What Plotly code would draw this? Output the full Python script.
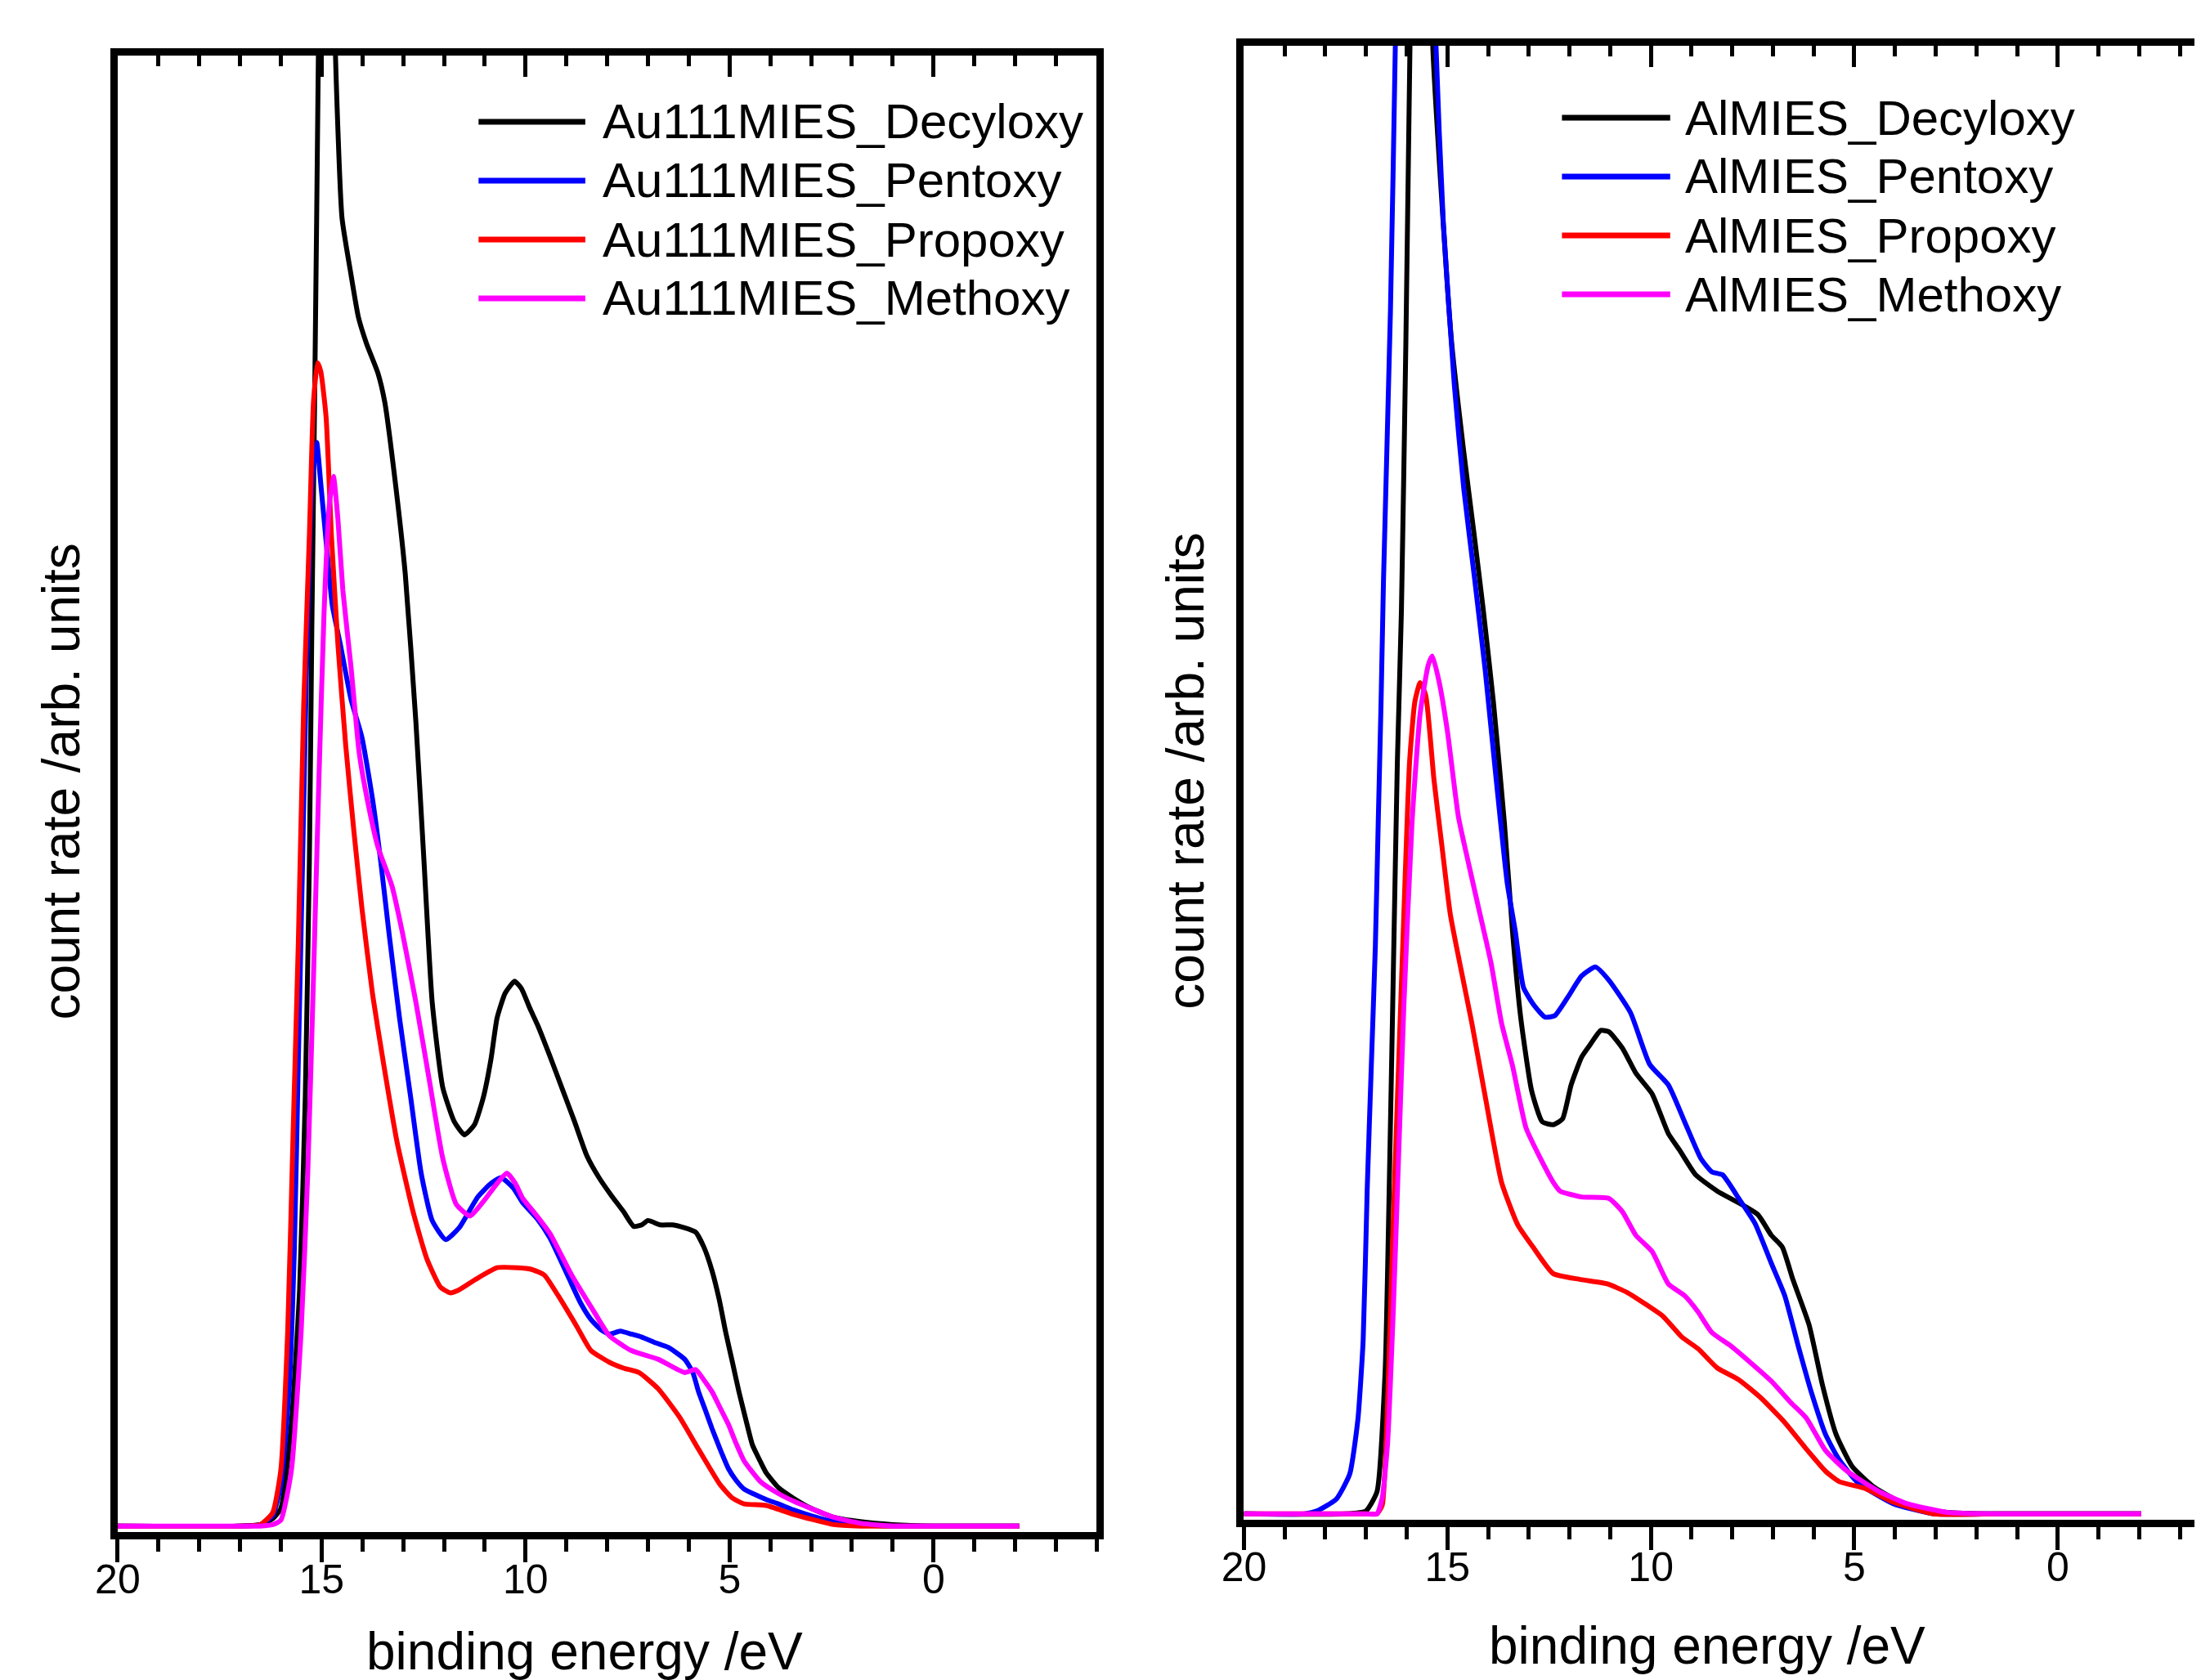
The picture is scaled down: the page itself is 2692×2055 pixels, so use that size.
"""Two MIES panels: Au(111) and Al substrates with alkoxy layers."""

import plotly.graph_objects as go

FONT = "Arial, Liberation Sans, sans-serif"

# ---- Au(111) panel: binding energy (eV) / count rate (arb., % of panel height)
AU_DECYLOXY_E = [20, 17, 16.5, 16.2, 16.0, 15.74, 15.54, 15.4, 15.3, 15.24,
                 15.17, 15.08, 15.0, 14.85, 14.66, 14.5, 14.3, 14.1, 13.9, 13.62,
                 13.45, 13.22, 12.95, 12.69, 12.49, 12.29, 12.03, 11.75, 11.5, 11.25,
                 11.03, 10.85, 10.7, 10.5, 10.27, 10.1, 9.9, 9.7, 9.4, 9.1,
                 8.8, 8.5, 8.2, 7.9, 7.6, 7.35, 7.15, 7.0, 6.7, 6.4,
                 6.1, 5.83, 5.63, 5.43, 5.25, 5.1, 4.93, 4.77, 4.6, 4.44,
                 4.25, 4.1, 3.8, 3.44, 3.0, 2.45, 1.8, 1.0, 0, -2.1]
AU_DECYLOXY_Y = [0.4, 0.4, 0.5, 0.9, 1.6, 7.4, 16.4, 29.5, 45.4, 61.2,
                 77, 100, 135, 135, 100, 89, 85.5, 82.3, 80.5, 78.5,
                 76.5, 71.7, 64.9, 54.9, 45.4, 35.9, 30.1, 27.8, 26.9, 27.6,
                 29.5, 32, 34.8, 36.5, 37.3, 36.8, 35.5, 34.3, 32.2, 30,
                 27.8, 25.5, 24, 22.8, 21.7, 20.7, 20.8, 21.1, 20.8, 20.8,
                 20.6, 20.3, 19.3, 17.7, 15.7, 13.6, 11.5, 9.5, 7.6, 5.9,
                 4.8, 4.0, 3.0, 2.3, 1.6, 1.0, 0.7, 0.5, 0.4, 0.4]

AU_PENTOXY_E = [20, 17, 16.5, 16.2, 16.0, 15.8, 15.67, 15.57, 15.47, 15.37,
                15.27, 15.2, 15.12, 15.02, 14.87, 14.74, 14.54, 14.28, 14.01, 13.75,
                13.55, 13.35, 13.09, 12.82, 12.56, 12.29, 11.96, 11.63, 11.17, 10.85,
                10.6, 10.3, 10.07, 9.71, 9.4, 8.94, 8.65, 8.4, 8.15, 7.95,
                7.68, 7.4, 7.15, 6.8, 6.5, 6.1, 5.9, 5.76, 5.6, 5.43,
                5.23, 5.03, 4.84, 4.64, 4.35, 4.1, 3.8, 3.44, 3.0, 2.45,
                1.8, 1.0, 0, -2.1]
AU_PENTOXY_Y = [0.4, 0.4, 0.5, 1.1, 3.2, 9.5, 19, 32, 45, 58.6,
                69, 72.2, 73.8, 71, 66.5, 62.8, 60.1, 56.4, 53.8, 49.6,
                45.4, 40.6, 34.8, 29.5, 24.3, 21.1, 19.8, 20.6, 22.7, 23.6,
                24.0, 23.3, 22.3, 21.2, 19.9, 17.2, 15.5, 14.4, 13.7, 13.4,
                13.6, 13.4, 13.2, 12.8, 12.5, 11.7, 10.8, 9.5, 8.3, 7.0,
                5.6, 4.3, 3.5, 2.9, 2.5, 2.2, 1.9, 1.5, 1.1, 0.7,
                0.5, 0.4, 0.4, 0.4]

AU_PROPOXY_E = [20, 17, 16.5, 16.2, 16.0, 15.83, 15.7, 15.57, 15.44, 15.3,
                15.2, 15.1, 15.02, 14.89, 14.76, 14.6, 14.41, 14.21, 14.01, 13.75,
                13.48, 13.15, 12.75, 12.42, 12.09, 11.85, 11.63, 11.23, 10.7, 10.2,
                9.87, 9.54, 9.2, 8.74, 8.4, 7.95, 7.6, 7.22, 6.75, 6.23,
                5.76, 5.5, 5.23, 4.93, 4.64, 4.1, 3.44, 2.45, 1.8, 1.0,
                0, -2.1]
AU_PROPOXY_Y = [0.4, 0.4, 0.5, 1.3, 4.2, 13.7, 26.9, 40, 55.9, 67.5,
                76.5, 79.2, 78.6, 75.5, 67.5, 60.1, 53.3, 47.5, 42.2, 36.4,
                31.7, 26.4, 21.6, 18.5, 16.6, 16.2, 16.4, 17.1, 17.9, 17.9,
                17.8, 17.4, 16.0, 13.9, 12.3, 11.5, 11.1, 10.8, 9.7, 7.8,
                5.6, 4.4, 3.2, 2.3, 1.9, 1.8, 1.2, 0.5, 0.4, 0.4,
                0.4, 0.4]

AU_METHOXY_E = [20, 17, 16.5, 16.2, 16.0, 15.74, 15.5, 15.34, 15.2, 15.07,
                14.94, 14.81, 14.71, 14.6, 14.48, 14.28, 14.08, 13.88, 13.62, 13.28,
                13.02, 12.69, 12.36, 12.03, 11.7, 11.36, 11.03, 10.7, 10.46, 10.25,
                10.07, 9.75, 9.4, 8.87, 8.34, 7.95, 7.42, 6.75, 6.1, 5.83,
                5.63, 5.43, 5.23, 5.03, 4.84, 4.64, 4.24, 3.8, 3.44, 2.45,
                1.8, 1.0, 0, -2.1]
AU_METHOXY_Y = [0.4, 0.4, 0.4, 0.5, 0.8, 4.2, 13.7, 24.3, 37.5, 50.6,
                62.3, 69.6, 71.5, 68.6, 63.8, 58.6, 52.8, 49.6, 46.4, 43.8,
                40.6, 35.9, 30.6, 25.3, 22.2, 21.4, 22.4, 23.6, 24.3, 23.6,
                22.6, 21.5, 20.2, 17.4, 15.0, 13.3, 12.3, 11.7, 10.8, 11.0,
                10.3, 9.5, 8.4, 7.3, 6.0, 4.8, 3.4, 2.6, 2.1, 1.0,
                0.6, 0.4, 0.4, 0.4]

# ---- Al panel
AL_DECYLOXY_E = [20, 17.5, 17.0, 16.73, 16.53, 16.43, 16.33, 16.23, 16.13, 16.02,
                 15.92, 15.75, 15.55, 15.36, 15.15, 14.9, 14.6, 14.35, 14.13, 13.87,
                 13.6, 13.4, 13.2, 12.93, 12.67, 12.4, 12.17, 11.96, 11.7, 11.5,
                 11.23, 11.03, 10.7, 10.37, 9.97, 9.57, 9.3, 8.9, 8.37, 7.84,
                 7.37, 7.04, 6.77, 6.51, 6.11, 5.78, 5.45, 5.05, 4.51, 3.72,
                 2.72, 1.5, 0, -2.05]
AL_DECYLOXY_Y = [0.4, 0.4, 0.6, 1.9, 10.1, 22.5, 37, 51.4, 61.7, 80,
                 100, 130, 130, 100, 90, 80, 72.5, 67, 62, 55.5,
                 47.3, 39.9, 34.1, 29.1, 27, 26.8, 27.2, 29.5, 31.4, 32.2,
                 33.2, 33.1, 32, 30.3, 28.9, 26.2, 25.1, 23.4, 22.3, 21.5,
                 20.7, 19.3, 18.5, 16.3, 13.2, 9.1, 5.8, 3.6, 2.2, 1.0,
                 0.5, 0.4, 0.4, 0.4]

AL_PENTOXY_E = [20, 18.5, 18.2, 17.73, 17.4, 17.2, 17.07, 16.97, 16.87, 16.77,
                16.7, 16.63, 16.57, 16.4, 16.28, 16.1, 15.8, 15.5, 15.28, 15.1,
                14.83, 14.6, 14.33, 14.07, 13.8, 13.53, 13.33, 13.13, 12.87, 12.6,
                12.36, 12.03, 11.7, 11.36, 11.03, 10.5, 10.03, 9.57, 9.17, 8.77,
                8.5, 8.24, 7.84, 7.44, 7.04, 6.71, 6.38, 6.04, 5.71, 5.38,
                4.91, 4.05, 3.05, 1.5, 0, -2.05]
AL_PENTOXY_Y = [0.4, 0.4, 0.6, 1.4, 3.1, 6.8, 12.2, 22.5, 30.8, 39,
                47.3, 55.5, 63.8, 82, 100, 140, 150, 140, 100, 88,
                77, 70, 63.8, 57.6, 50.2, 43.2, 39.9, 36.1, 34.9, 34.1,
                34.2, 35.5, 36.9, 37.5, 36.6, 34.4, 30.9, 29.5, 27, 24.5,
                23.6, 23.4, 21.8, 20.1, 17.4, 15.2, 11.8, 8.5, 5.8, 4.1,
                2.5, 1.1, 0.4, 0.4, 0.4, 0.4]

AL_PROPOXY_E = [20, 17, 16.73, 16.6, 16.47, 16.33, 16.2, 16.07, 15.93, 15.8,
                15.67, 15.53, 15.33, 15.13, 14.93, 14.67, 14.4, 14.07, 13.67, 13.27,
                12.87, 12.4, 11.73, 11.07, 10.57, 10.17, 9.7, 9.24, 8.84, 8.37,
                7.84, 7.31, 6.71, 6.24, 5.71, 5.38, 4.71, 4.05, 3.05, 1.5,
                0, -2.05]
AL_PROPOXY_Y = [0.4, 0.4, 0.4, 1.0, 8.0, 20.4, 30.8, 41.1, 51.4, 55.5,
                56.8, 55.9, 50.2, 45.6, 41.1, 37.4, 33.7, 28.7, 22.9, 20.0,
                18.4, 16.7, 16.3, 16.0, 15.4, 14.7, 13.8, 12.4, 11.6, 10.3,
                9.5, 8.3, 6.6, 5.0, 3.3, 2.6, 2.1, 1.2, 0.4, 0.4,
                0.4, 0.4]

AL_METHOXY_E = [20, 17, 16.73, 16.6, 16.47, 16.33, 16.2, 16.07, 15.87, 15.67,
                15.47, 15.37, 15.2, 15.0, 14.73, 14.47, 14.2, 13.93, 13.67, 13.4,
                13.07, 12.73, 12.4, 12.23, 11.7, 11.03, 10.7, 10.37, 9.97, 9.57,
                9.17, 8.84, 8.5, 8.04, 7.57, 7.04, 6.58, 6.18, 5.71, 5.18,
                4.38, 3.72, 2.72, 1.5, 0, -2.05]
AL_METHOXY_Y = [0.4, 0.4, 0.4, 1.5, 5.2, 14.2, 24.6, 34.9, 47.3, 54.7,
                58.0, 58.6, 56.8, 53.5, 47.7, 44.4, 41.1, 37.8, 33.7, 30.8,
                26.6, 24.6, 22.9, 22.3, 21.9, 21.8, 20.9, 19.3, 18.2, 16.0,
                15.2, 14.1, 12.7, 11.8, 10.7, 9.4, 8.0, 6.9, 4.7, 3.3,
                1.9, 1.1, 0.5, 0.4, 0.4, 0.4]

AU_NAMES = ["Au111MIES_Decyloxy", "Au111MIES_Pentoxy",
            "Au111MIES_Propoxy", "Au111MIES_Methoxy"]
AL_NAMES = ["AlMIES_Decyloxy", "AlMIES_Pentoxy",
            "AlMIES_Propoxy", "AlMIES_Methoxy"]
COLORS = ["#000000", "#0000ff", "#ff0000", "#ff00ff"]

X_TITLE = "binding energy /eV"
Y_TITLE = "count rate /arb. units"

AU_DATA = [(AU_DECYLOXY_E, AU_DECYLOXY_Y), (AU_PENTOXY_E, AU_PENTOXY_Y),
           (AU_PROPOXY_E, AU_PROPOXY_Y), (AU_METHOXY_E, AU_METHOXY_Y)]
AL_DATA = [(AL_DECYLOXY_E, AL_DECYLOXY_Y), (AL_PENTOXY_E, AL_PENTOXY_Y),
           (AL_PROPOXY_E, AL_PROPOXY_Y), (AL_METHOXY_E, AL_METHOXY_Y)]


def add_panel(fig, data, names, xa, ya, xa_top):
    for (e, y), name, color in zip(data, names, COLORS):
        fig.add_trace(go.Scatter(x=e, y=y, name=name, mode="lines",
                                 line=dict(color=color, width=6,
                                           shape="spline", smoothing=0.5),
                                 xaxis=xa, yaxis=ya, showlegend=False))
    # empty trace so the mirrored top axis (ticks pointing inward) is drawn
    fig.add_trace(go.Scatter(x=[], y=[], xaxis=xa_top, yaxis=ya,
                             showlegend=False, hoverinfo="skip"))


def bottom_axis(domain, rng, anchor):
    return dict(domain=domain, range=rng, anchor=anchor,
                tickmode="linear", tick0=0, dtick=5,
                ticks="outside", ticklen=28, tickwidth=5, tickcolor="black",
                minor=dict(ticks="outside", dtick=1, tick0=0, ticklen=15,
                           tickwidth=5, tickcolor="black"),
                showline=True, linewidth=9, linecolor="black", mirror=True,
                showgrid=False, zeroline=False, ticklabelstandoff=-22,
                tickfont=dict(family=FONT, size=50, color="black"))


def top_axis(over, rng, anchor):
    return dict(overlaying=over, side="top", range=rng, anchor=anchor,
                tickmode="linear", tick0=0, dtick=5,
                ticks="inside", ticklen=26, tickwidth=5, tickcolor="black",
                minor=dict(ticks="inside", dtick=1, tick0=0, ticklen=13,
                           tickwidth=5, tickcolor="black"),
                showticklabels=False, showline=False,
                showgrid=False, zeroline=False)


def side_axis(domain, anchor, mirror):
    return dict(domain=domain, range=[0, 100], anchor=anchor,
                showline=True, linewidth=9, linecolor="black", mirror=mirror,
                ticks="", showticklabels=False,
                showgrid=False, zeroline=False)


def legend_items(names, x0, x1, xt, rows):
    shapes, notes = [], []
    for name, color, yy in zip(names, COLORS, rows):
        shapes.append(dict(type="line", xref="paper", yref="paper",
                           x0=x0, x1=x1, y0=yy, y1=yy,
                           line=dict(color=color, width=7)))
        notes.append(dict(text=name, xref="paper", yref="paper",
                          x=xt, y=yy, xanchor="left", yanchor="middle",
                          showarrow=False,
                          font=dict(family=FONT, size=60, color="black")))
    return shapes, notes


def main():
    fig = go.Figure()
    add_panel(fig, AU_DATA, AU_NAMES, "x", "y", "x3")
    add_panel(fig, AL_DATA, AL_NAMES, "x2", "y2", "x4")

    au_range = [20, -4]
    al_range = [20, -3.68]

    s1, a1 = legend_items(AU_NAMES, 0.2062, 0.2552, 0.2623,
                          [0.9314, 0.8964, 0.8613, 0.8263])
    s2, a2 = legend_items(AL_NAMES, 0.7036, 0.7533, 0.7593,
                          [0.9338, 0.8988, 0.8637, 0.8287])

    titles = [
        dict(text=X_TITLE, x=0.2548, y=0.021),
        dict(text=X_TITLE, x=0.7701, y=0.0243),
        dict(text=Y_TITLE, x=0.0145, y=0.5387, textangle=-90),
        dict(text=Y_TITLE, x=0.5308, y=0.5447, textangle=-90),
    ]
    for t in titles:
        t.update(xref="paper", yref="paper", xanchor="center",
                 yanchor="middle", showarrow=False,
                 font=dict(family=FONT, size=64, color="black"))

    fig.update_layout(
        width=2692, height=2055,
        margin=dict(l=0, r=0, t=0, b=0),
        paper_bgcolor="white", plot_bgcolor="white",
        showlegend=False,
        xaxis=bottom_axis([0.0405, 0.4900], au_range, "y"),
        xaxis3=top_axis("x", au_range, "y"),
        yaxis=side_axis([0.092, 0.9708], "x", True),
        xaxis2=bottom_axis([0.5576, 1.0], al_range, "y2"),
        xaxis4=top_axis("x2", al_range, "y2"),
        yaxis2=side_axis([0.0993, 0.9766], "x2", False),
        shapes=s1 + s2,
        annotations=a1 + a2 + titles,
    )
    fig.write_html("out.html")


if __name__ == "__main__":
    main()
